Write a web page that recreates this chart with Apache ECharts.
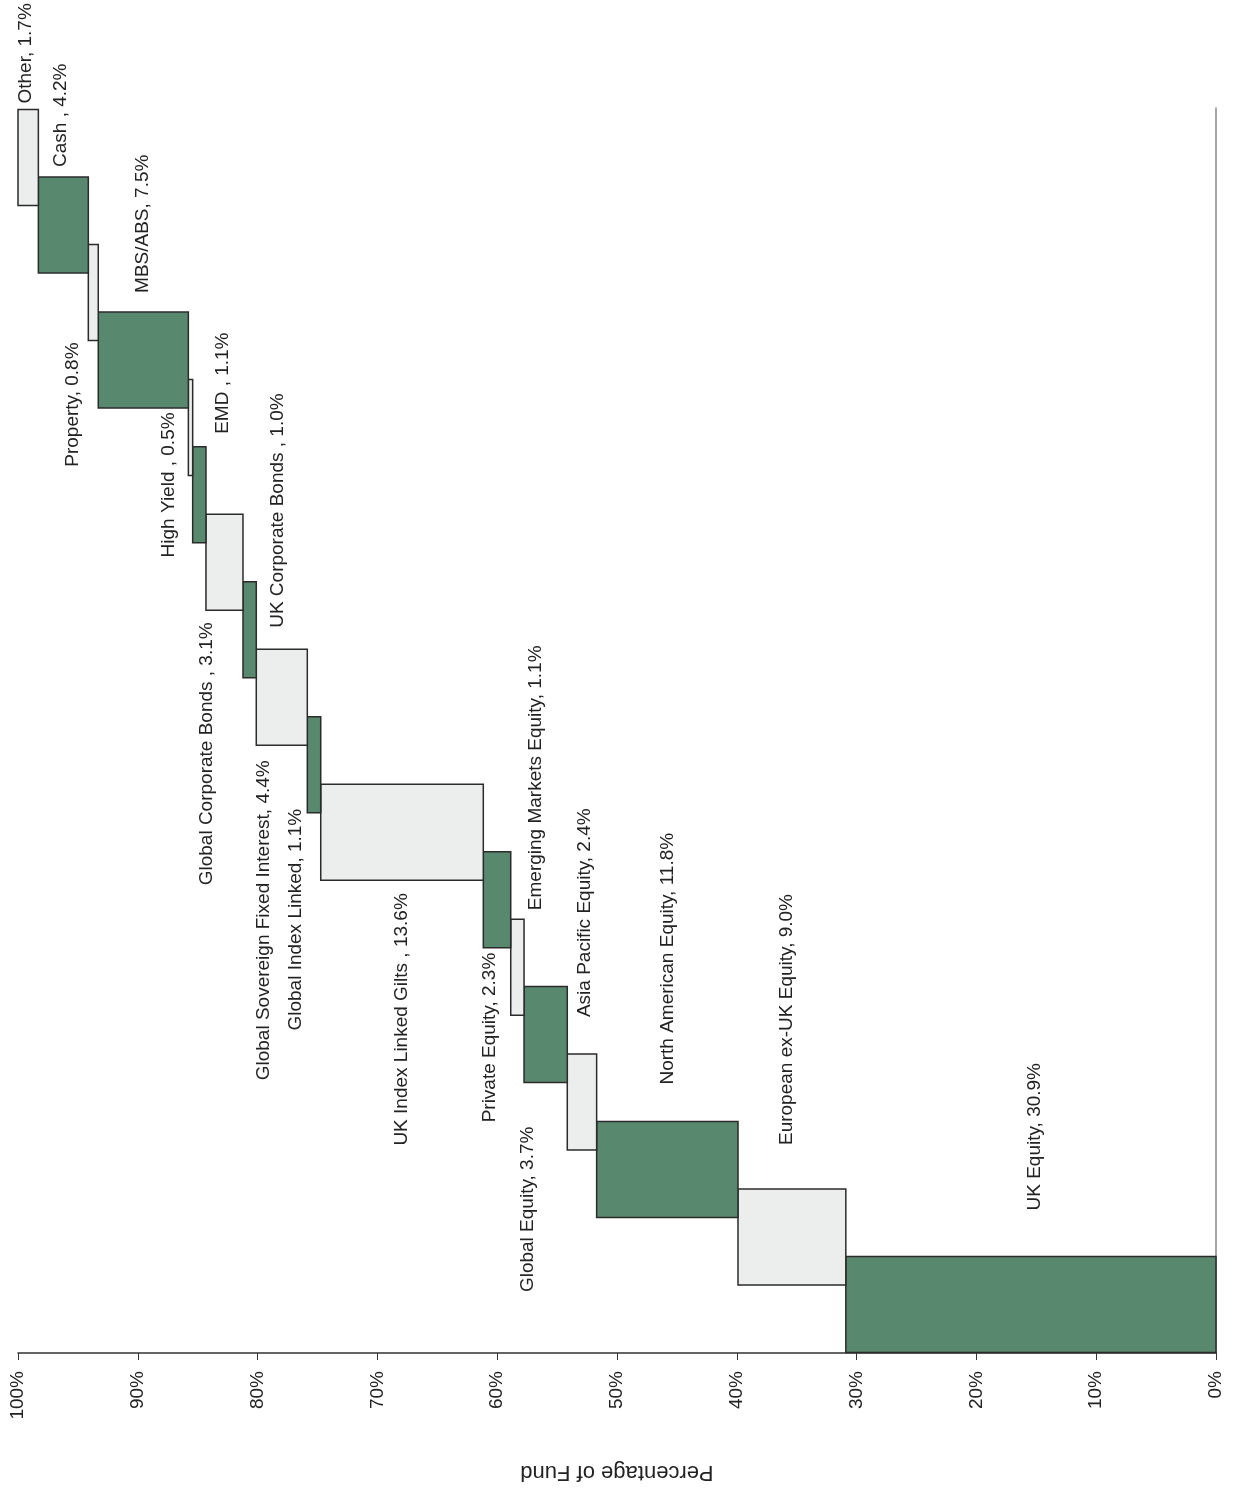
<!DOCTYPE html>
<html>
<head>
<meta charset="utf-8">
<script src="https://cdn.jsdelivr.net/npm/echarts@6.0.0/dist/echarts.min.js"></script>
<style>
    html, body { margin: 0; padding: 0; background: #fff; }
    #chart { width: 1235px; height: 1488px; }
</style>
</head>
<body>
<div id="chart"></div>
<script>
    // categories from the bottom bar (first) to the top bar (last)
    let categories = [
        'UK Equity', 'European ex-UK Equity', 'North American Equity', 'Asia Pacific Equity',
        'Global Equity', 'Emerging Markets Equity', 'Private Equity', 'UK Index Linked Gilts',
        'Global Index Linked', 'Global Sovereign Fixed Interest', 'UK Corporate Bonds',
        'Global Corporate Bonds', 'EMD', 'High Yield', 'MBS/ABS', 'Property', 'Cash', 'Other'
    ];
    // share shown in each label (%)
    let shares = [30.9, 9.0, 11.8, 2.4, 3.7, 1.1, 2.3, 13.6, 1.1, 4.4, 1.0, 3.1, 1.1, 0.5, 7.5, 0.8, 4.2, 1.7];
    // running total at the end of each bar (%)
    let cumulativeEnd = [30.9, 39.9, 51.7, 54.15, 57.76, 58.87, 61.16, 74.73, 75.85, 80.11,
        81.22, 84.31, 85.42, 85.78, 93.3, 94.13, 98.3, 100];
    // labels written with " , " in the original
    let spacedComma = ['UK Index Linked Gilts', 'UK Corporate Bonds', 'Global Corporate Bonds', 'EMD', 'High Yield', 'Cash'];
    let xTicks = [0, 10, 20, 30, 40, 50, 60, 70, 80, 90, 100];

    // label placement: [side (1 above bar, -1 below), x shift px, gap px]
    let labelPlace = [
        [1, 4, 46], [1, -5, 44], [1, 0, 37], [1, 3, 37], [-1, -18, 44], [1, 18, 9],
        [-1, -7, 5], [-1, 0, 13], [-1, -18, -4], [-1, -18, 15], [1, 28, -46], [-1, -18, 12],
        [1, 23, 13], [-1, -22, -63], [1, -1, 19], [-1, -21, 2], [1, -3, 10], [1, -2, 6]
    ];

    let green = '#58886e';
    let light = '#ebeeec';
    let font = '19px "Liberation Sans", Arial, sans-serif';

    let data = categories.map((name, i) => {
        let start = i === 0 ? 0 : cumulativeEnd[i - 1];
        return [start, cumulativeEnd[i], i];
    });

    function renderItem(params, api) {
        let i = api.value(2);
        let a = api.coord([api.value(0), i]);
        let b = api.coord([api.value(1), i]);
        let h = api.size([0, 1.423])[1];
        let left = Math.min(a[0], b[0]);
        let w = Math.abs(a[0] - b[0]);
        let top = a[1] - h / 2;
        let name = categories[i];
        let text = name + (spacedComma.indexOf(name) >= 0 ? ' , ' : ', ') + shares[i].toFixed(1) + '%';
        let place = labelPlace[i];
        let tx = left + w / 2 + place[1];
        let ty = place[0] > 0 ? top - place[2] : top + h + place[2];
        return {
            type: 'group',
            children: [{
                type: 'rect',
                shape: { x: left, y: top, width: w, height: h },
                style: { fill: i % 2 === 0 ? green : light, stroke: '#2b2b2b', lineWidth: 1.5 }
            }, {
                type: 'text',
                x: tx,
                y: ty,
                rotation: Math.PI / 2,
                style: {
                    text: text,
                    font: font,
                    fill: '#222',
                    align: place[0] > 0 ? 'left' : 'right',
                    verticalAlign: 'middle'
                }
            }]
        };
    }

    let myChart = echarts.init(document.getElementById('chart'));
    let option = {
        backgroundColor: '#fff',
        animation: false,
        grid: { left: 18, right: 19, top: 108, bottom: 135 },
        xAxis: {
            type: 'value',
            inverse: true,
            min: xTicks[0],
            max: xTicks[xTicks.length - 1],
            interval: 10,
            splitLine: { show: false },
            axisLine: { onZero: false, lineStyle: { color: '#333', width: 1.5 } },
            axisTick: { show: true, length: 7, lineStyle: { color: '#333' } },
            axisLabel: {
                rotate: 90,
                margin: 18,
                formatter: '{value}%',
                fontSize: 19,
                fontFamily: 'Liberation Sans',
                color: '#222'
            },
            name: 'Percentage of Fund',
            nameLocation: 'middle',
            nameRotate: 180,
            nameGap: 108,
            nameTextStyle: { fontSize: 22, fontFamily: 'Liberation Sans', color: '#222' }
        },
        yAxis: {
            type: 'value',
            min: -0.719,
            max: 17.734,
            position: 'right',
            splitLine: { show: false },
            axisLine: { show: true, onZero: false, lineStyle: { color: '#888', width: 1.5 } },
            axisTick: { show: false },
            axisLabel: { show: false }
        },
        series: [{
            type: 'custom',
            renderItem: renderItem,
            clip: false,
            encode: { x: [0, 1], y: 2 },
            data: data
        }]
    };
    myChart.setOption(option);
</script>
</body>
</html>
